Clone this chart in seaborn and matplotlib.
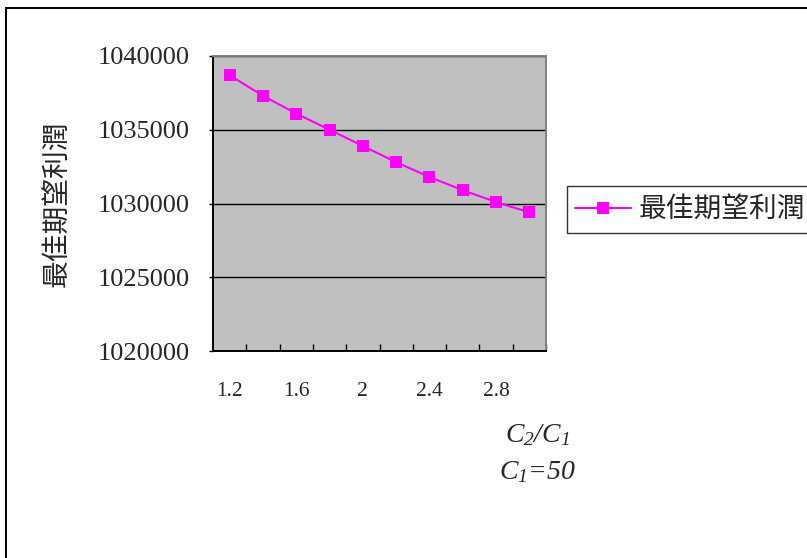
import numpy as np
import pandas as pd
import matplotlib
matplotlib.use("Agg")
import matplotlib.pyplot as plt
import matplotlib.patches as mpatches
from matplotlib.ticker import FixedLocator
import seaborn as sns

# ratio C2/C1 and the best expected profit at each ratio (C1 = 50)
ratios = ["1.2", "1.4", "1.6", "1.8", "2", "2.2", "2.4", "2.6", "2.8", "3"]
profit = [1038700, 1037300, 1036100, 1035000, 1033900,
          1032800, 1031800, 1030900, 1030100, 1029400]
series_name = "最佳期望利潤"
y_ticks = [1020000, 1025000, 1030000, 1035000, 1040000]
x_tick_labels = ["1.2", "1.6", "2", "2.4", "2.8"]

sns.set_theme(style="ticks")
plt.rcParams["font.family"] = ["Liberation Serif", "Noto Sans CJK TC", "DejaVu Sans"]
# all-italic serif math for the axis caption
plt.rcParams["mathtext.fontset"] = "custom"
plt.rcParams["mathtext.rm"] = "Liberation Serif:italic"
plt.rcParams["mathtext.it"] = "Liberation Serif:italic"

df = pd.DataFrame({"ratio": ratios, "profit": profit})

W, H = 807, 558
fig = plt.figure(figsize=(W / 100, H / 100), dpi=100)
fig.patch.set_facecolor("white")
ax = fig.add_axes([213 / W, 1 - 351 / H, (546 - 213) / W, (351 - 56) / H])
ax.set_facecolor("#C0C0C0")

sns.pointplot(data=df, x="ratio", y="profit", order=ratios, color="#FF00FF",
              markers="s", linestyles="-", markersize=8.5, linewidth=1.5,
              errorbar=None, ax=ax)
for ln in ax.get_lines():
    ln.set_markeredgewidth(0)
    ln.set_zorder(5)

ax.set_xlim(-0.5, len(ratios) - 0.5)
ax.set_ylim(y_ticks[0], y_ticks[-1])

# horizontal gridlines
ax.yaxis.set_major_locator(FixedLocator(y_ticks))
ax.grid(axis="y", color="black", linewidth=1.0)
ax.grid(axis="x", visible=False)
ax.set_axisbelow(True)

# y ticks
ax.set_yticklabels([str(v) for v in y_ticks])
ax.tick_params(axis="y", direction="out", length=3, width=1, color="black",
               labelsize=19, pad=14)

# x: labels on every other category, tick marks between categories
ax.set_xticks([0, 2, 4, 6, 8])
ax.set_xticklabels(x_tick_labels)
ax.xaxis.set_minor_locator(FixedLocator(np.arange(0.5, len(ratios), 1.0)))
ax.tick_params(axis="x", which="major", length=0, labelsize=15.5, pad=22)
ax.tick_params(axis="x", which="minor", direction="in", length=5, width=1,
               color="black", bottom=True)

for side in ["left", "bottom"]:
    ax.spines[side].set_color("black")
    ax.spines[side].set_linewidth(1.4)
for side in ["top", "right"]:
    ax.spines[side].set_visible(True)
    ax.spines[side].set_color("#808080")
    ax.spines[side].set_linewidth(1.4)

ax.set_xlabel("")
ax.set_ylabel(series_name, fontsize=20, family=["Noto Sans CJK TC"])
ax.yaxis.set_label_coords((73 - 213) / (546 - 213), 0.5)

# axis caption under the plot
ax.text((537 - 213) / (546 - 213), (351 - 435) / (351 - 56), r"$C_2/C_1$",
        transform=ax.transAxes, ha="center", va="center", fontsize=20)
ax.text((538 - 213) / (546 - 213), (351 - 472) / (351 - 56), r"$C_1$=50",
        transform=ax.transAxes, ha="center", va="center", fontsize=20,
        style="italic")

# legend
handle = plt.Line2D([], [], color="#FF00FF", marker="s", markersize=8.5,
                    markeredgewidth=0, linewidth=1.5)
leg = fig.legend([handle], [series_name], loc="upper left",
                 bbox_to_anchor=(567 / W, 1 - 186 / H), bbox_transform=fig.transFigure,
                 prop={"family": ["Noto Sans CJK TC"], "size": 20},
                 frameon=True, fancybox=False, borderpad=0.3, borderaxespad=0,
                 handlelength=2.0, handletextpad=0.3)
leg.get_frame().set_edgecolor("black")
leg.get_frame().set_linewidth(1.0)

# outer chart frame
fig.patches.append(mpatches.Rectangle((6 / W, -0.1), 1.2, 1.1 - 8 / H,
                                      transform=fig.transFigure, fill=False,
                                      edgecolor="black", linewidth=1.4))

fig.savefig("out.png", dpi=100)
